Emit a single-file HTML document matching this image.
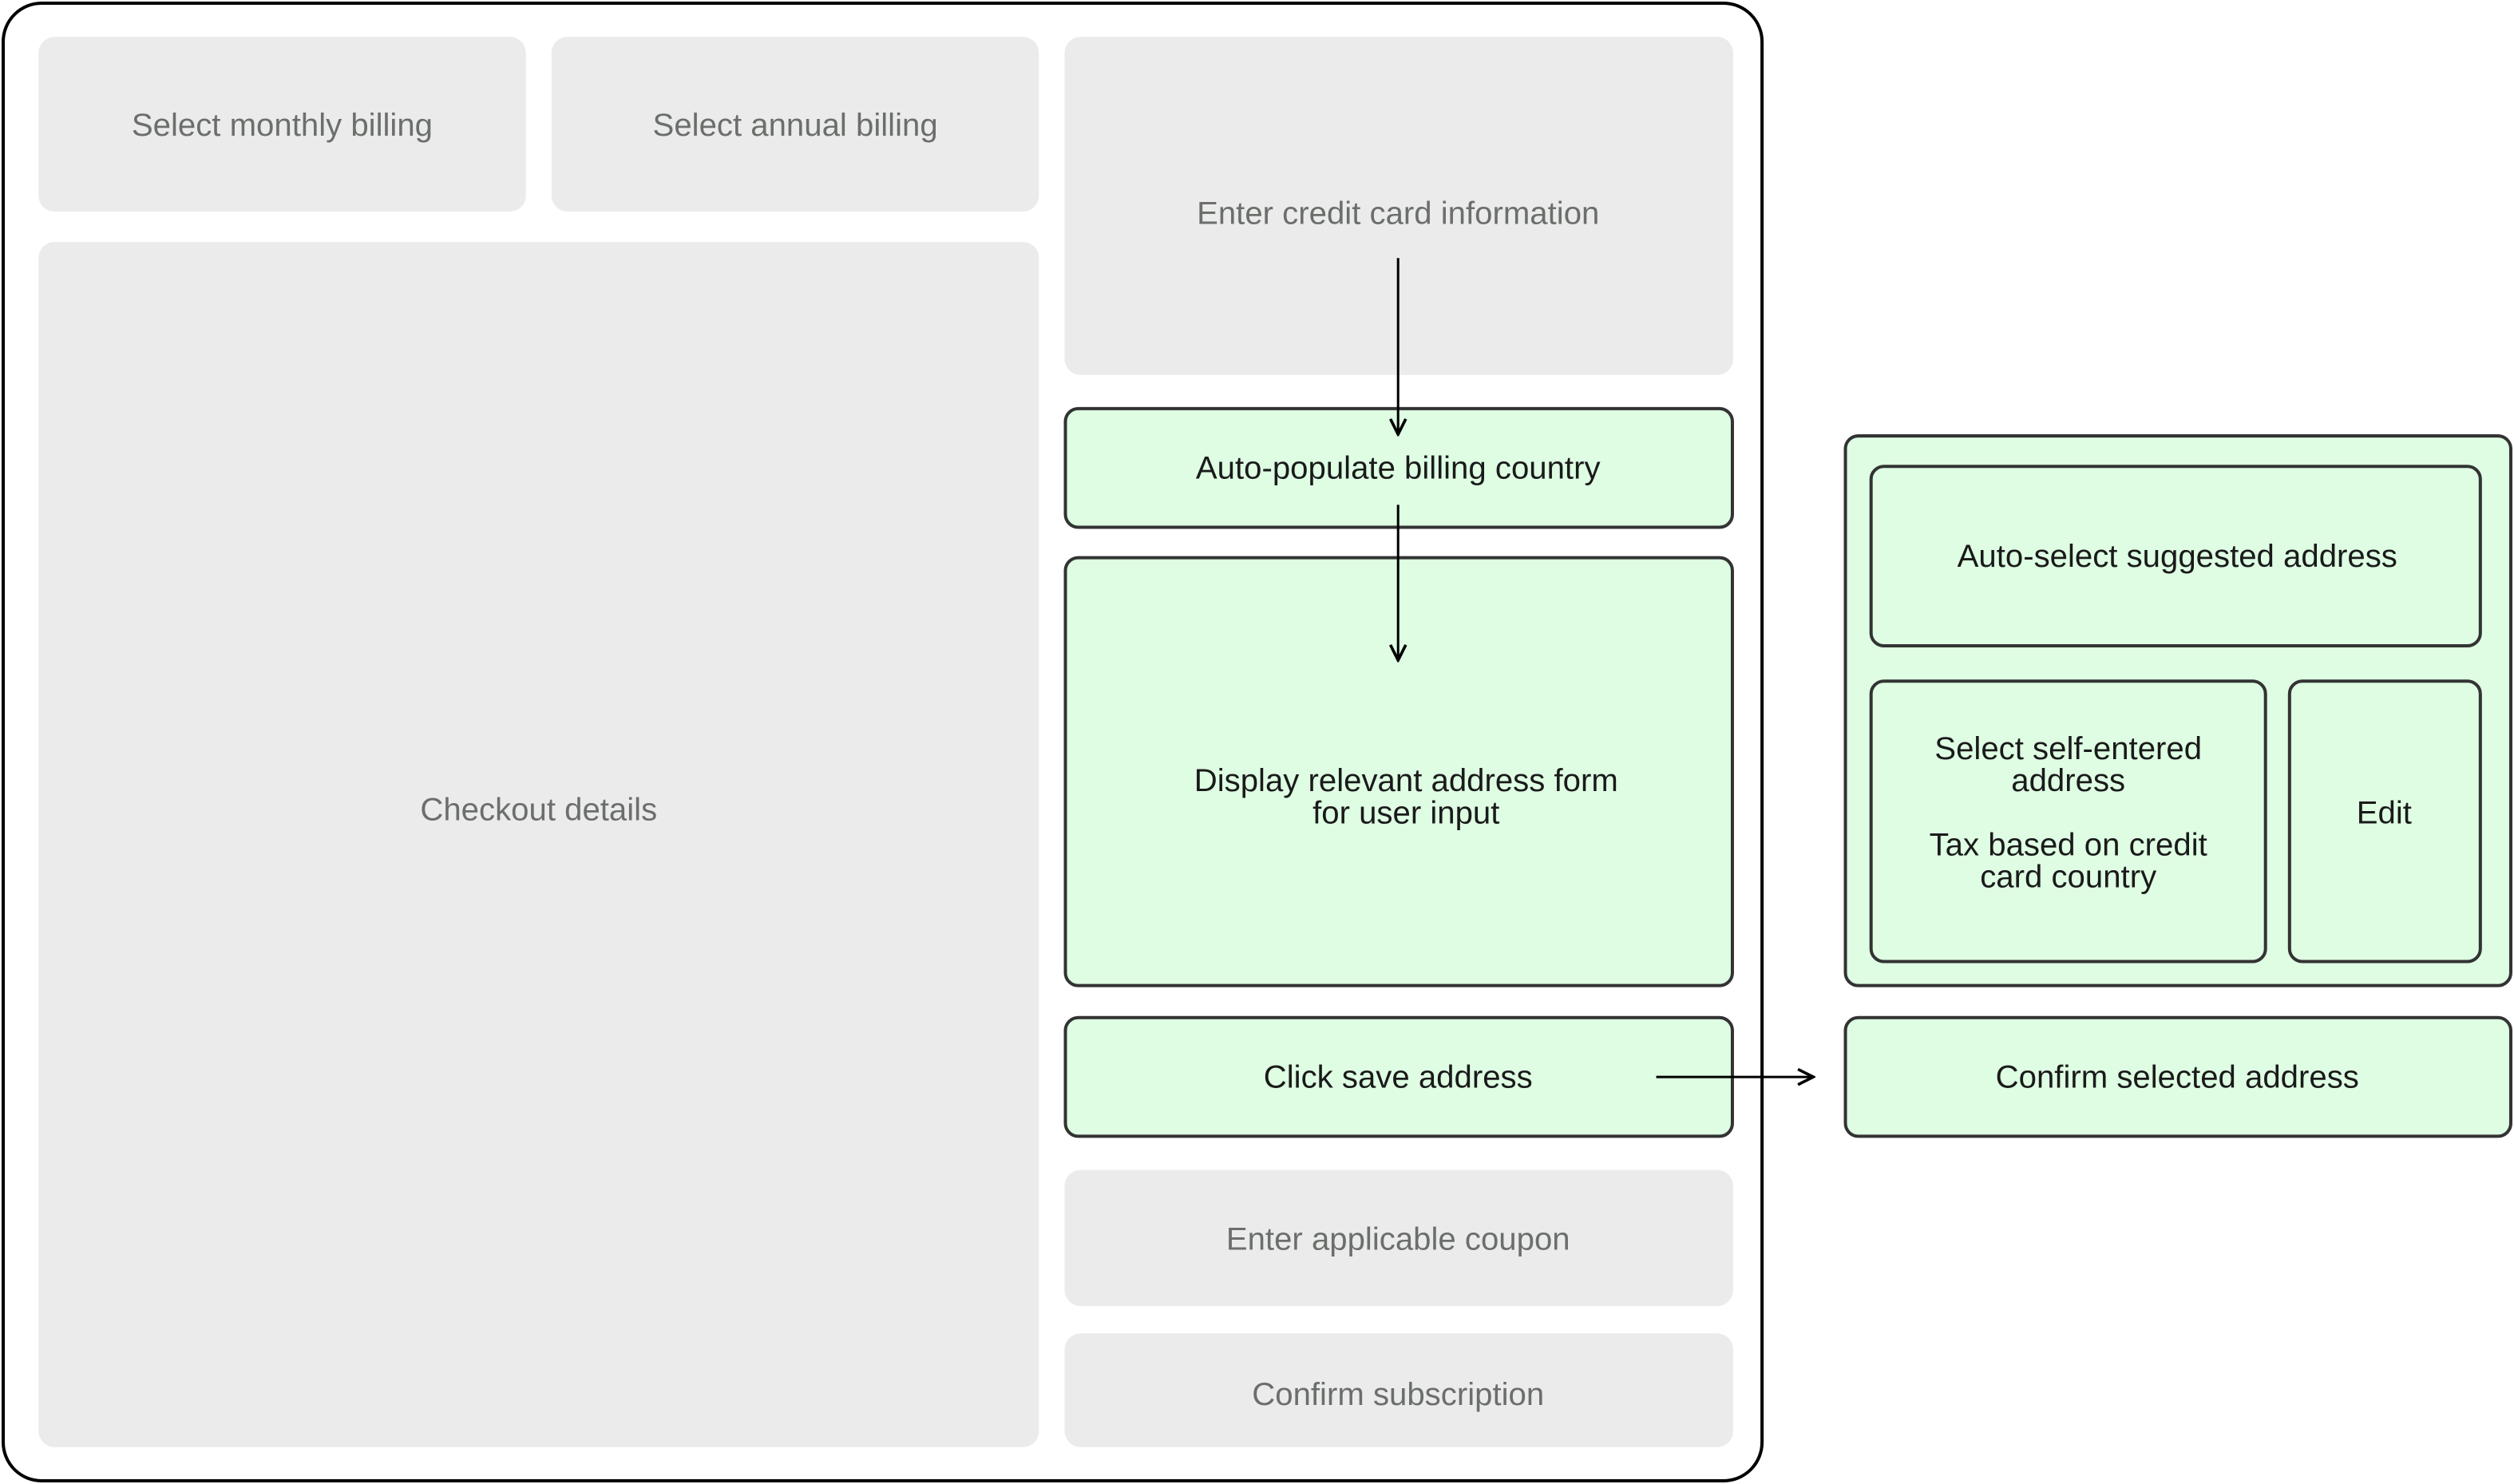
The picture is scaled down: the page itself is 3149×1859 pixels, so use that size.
<!DOCTYPE html>
<html><head><meta charset="utf-8">
<style>
html,body{margin:0;padding:0;background:#fff;width:3149px;height:1859px;overflow:hidden}
svg{display:block}
text{font-family:"Liberation Sans",sans-serif;font-size:20px;text-anchor:middle;dominant-baseline:central}
.g{fill:#ebebeb}
.gt{fill:#6b6f6b}
.n{fill:#defde3;stroke:#333;stroke-width:2}
.nt{fill:#1a1a1a}
</style></head><body>
<svg width="3149" height="1859" viewBox="0 0 1568 926" preserveAspectRatio="none">
<defs><marker id="a" viewBox="0 0 10 10" refX="9" refY="5" markerWidth="12" markerHeight="12" markerUnits="userSpaceOnUse" orient="auto"><path d="M1 1 L9 5 L1 9" fill="none" stroke="#000" stroke-width="1.5"/></marker></defs>
<rect x="2" y="2" width="1097" height="922" rx="24" fill="#fff" stroke="#000" stroke-width="2"/>
<rect class="g" x="24" y="23" width="304" height="109" rx="10"/>
<text class="gt" x="176" y="78">Select monthly billing</text>
<rect class="g" x="344" y="23" width="304" height="109" rx="10"/>
<text class="gt" x="496" y="78">Select annual billing</text>
<rect class="g" x="24" y="151" width="624" height="752" rx="10"/>
<text class="gt" x="336" y="505">Checkout details</text>
<rect class="g" x="664" y="23" width="417" height="211" rx="10"/>
<text class="gt" x="872" y="133">Enter credit card information</text>
<rect class="n" x="664.5" y="255" width="416" height="74" rx="8"/>
<text class="nt" x="872" y="292">Auto-populate billing country</text>
<rect class="n" x="664.5" y="348" width="416" height="267" rx="8"/>
<text class="nt" x="877" y="487">Display relevant address form</text>
<text class="nt" x="877" y="507">for user input</text>
<rect class="n" x="664.5" y="635" width="416" height="74" rx="8"/>
<text class="nt" x="872" y="672">Click save address</text>
<rect class="g" x="664" y="730" width="417" height="85" rx="10"/>
<text class="gt" x="872" y="773">Enter applicable coupon</text>
<rect class="g" x="664" y="832" width="417" height="71" rx="10"/>
<text class="gt" x="872" y="870">Confirm subscription</text>
<line x1="872" y1="161" x2="872" y2="271" stroke="#000" stroke-width="1.5" marker-end="url(#a)"/>
<line x1="872" y1="315" x2="872" y2="412" stroke="#000" stroke-width="1.5" marker-end="url(#a)"/>
<line x1="1033" y1="672" x2="1131" y2="672" stroke="#000" stroke-width="1.5" marker-end="url(#a)"/>
<rect class="n" x="1151" y="272" width="415" height="343" rx="8"/>
<rect class="n" x="1167" y="291" width="380" height="112" rx="8"/>
<text class="nt" x="1358" y="347">Auto-select suggested address</text>
<rect class="n" x="1167" y="425" width="246" height="175" rx="8"/>
<text class="nt" x="1290" y="467">Select self-entered</text>
<text class="nt" x="1290" y="487">address</text>
<text class="nt" x="1290" y="527">Tax based on credit</text>
<text class="nt" x="1290" y="547">card country</text>
<rect class="n" x="1428" y="425" width="119" height="175" rx="8"/>
<text class="nt" x="1487" y="507">Edit</text>
<rect class="n" x="1151" y="635" width="415" height="74" rx="8"/>
<text class="nt" x="1358" y="672">Confirm selected address</text>
</svg>
</body></html>
